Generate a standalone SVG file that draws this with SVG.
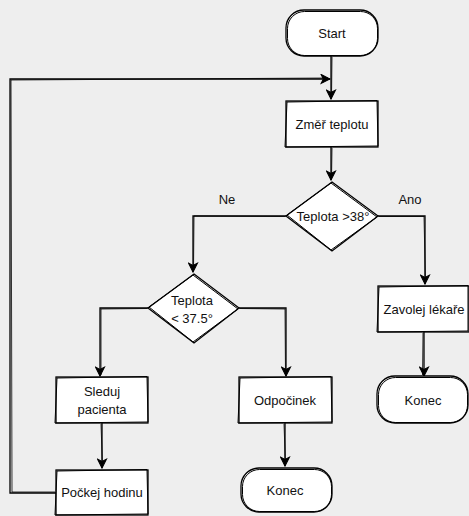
<svg xmlns="http://www.w3.org/2000/svg" width="469" height="516" viewBox="0 0 469 516">
<defs>
<marker id="ah" viewBox="0 0 10 10" refX="9" refY="5" markerWidth="11" markerHeight="11" markerUnits="userSpaceOnUse" orient="auto">
<path d="M1,1 L9,5 L1,9 L3,5 Z" fill="#000" stroke="#000" stroke-width="1"/>
</marker>
<style>
.bg{fill:#eeeeee}
.n{fill:#fff;stroke:#000;stroke-width:1.3}
.s{fill:none;stroke:#000;stroke-width:1}
.c{fill:none;stroke:#000;stroke-width:1.3}
.c2{fill:none;stroke:#000;stroke-width:0.8}
text{font-family:"Liberation Sans",Arial,sans-serif;font-size:13px;fill:#111;text-anchor:middle;dominant-baseline:central}
</style>
</defs>
<rect class="bg" x="0" y="0" width="469" height="516"/>
<g id="connectors">
<path class="c" d="M331,56 L331,99" marker-end="url(#ah)"/>
<path class="c2" d="M332,57 L331.5,98"/>
<path class="c" d="M331,147 L331,180" marker-end="url(#ah)"/>
<path class="c2" d="M332,148 L331.5,179"/>
<path class="c" d="M286,216 L193,216 L193,272" marker-end="url(#ah)"/>
<path class="c2" d="M285,216.5 L194,216 L193.5,271"/>
<path class="c" d="M378,216 L425,216 L425,284" marker-end="url(#ah)"/>
<path class="c2" d="M379,216.5 L424,216.5 L425.5,283"/>
<path class="c" d="M148,308 L100,308 L100,376" marker-end="url(#ah)"/>
<path class="c2" d="M147,308.5 L101,309 L101,375"/>
<path class="c" d="M239,308 L286,308 L286,376" marker-end="url(#ah)"/>
<path class="c2" d="M240,308.5 L285,309 L285.5,375"/>
<path class="c" d="M424,332 L424,376" marker-end="url(#ah)"/>
<path class="c2" d="M423,333 L422.5,375"/>
<path class="c" d="M285,423 L285,466" marker-end="url(#ah)"/>
<path class="c2" d="M284,424 L285.5,465"/>
<path class="c" d="M102,423 L102,468" marker-end="url(#ah)"/>
<path class="c2" d="M101,424 L102.5,467"/>
<path class="c" d="M56,493 L10,493 L10,79 L330,79" marker-end="url(#ah)"/>
<path class="c2" d="M55,492 L12,492 L11,80 L328,78"/>
</g>
<g id="start">
<rect class="n" x="286" y="10" width="92" height="46" rx="18"/>
<rect class="s" x="287.5" y="11.5" width="90" height="44" rx="17"/>
<text x="332" y="33">Start</text>
</g>
<g id="zmer">
<rect class="n" x="286" y="101" width="92" height="46"/>
<path class="s" d="M287,102 L377,100.5 L378,146 L285,147 Z"/>
<text x="332" y="124">Změř teplotu</text>
</g>
<g id="d1">
<path class="n" d="M332,182 L378,216 L332,251 L286,216 Z"/>
<path class="s" d="M331,183 L377,217 L331,250 L287,215 Z"/>
<text x="333" y="216">Teplota &gt;38°</text>
</g>
<text x="227" y="199">Ne</text>
<text x="410" y="199">Ano</text>
<g id="d2">
<path class="n" d="M194,274 L239,308 L194,343 L148,308 Z"/>
<path class="s" d="M193,275 L238,309 L193,342 L149,307 Z"/>
<text x="192" y="300">Teplota</text>
<text x="192" y="318">&lt; 37.5°</text>
</g>
<g id="zavolej">
<rect class="n" x="378" y="286" width="91" height="46"/>
<path class="s" d="M379,287 L468,285.5 L468,331 L377,332 Z"/>
<text x="424" y="309">Zavolej lékaře</text>
</g>
<g id="konec1">
<rect class="n" x="377" y="376" width="91" height="47" rx="18"/>
<rect class="s" x="378.5" y="377.5" width="89" height="45" rx="17"/>
<text x="423" y="400">Konec</text>
</g>
<g id="sleduj">
<rect class="n" x="56" y="377" width="92" height="46"/>
<path class="s" d="M57,378 L147,376.5 L148,422 L55,423 Z"/>
<text x="102" y="391">Sleduj</text>
<text x="102" y="409">pacienta</text>
</g>
<g id="odpocinek">
<rect class="n" x="239" y="377" width="93" height="46"/>
<path class="s" d="M240,378 L331,376.5 L332,422 L238,423 Z"/>
<text x="285" y="400">Odpočinek</text>
</g>
<g id="konec2">
<rect class="n" x="241" y="468" width="91" height="44" rx="18"/>
<rect class="s" x="242.5" y="469.5" width="89" height="42" rx="17"/>
<text x="285" y="490">Konec</text>
</g>
<g id="pockej">
<rect class="n" x="56" y="470" width="92" height="45"/>
<path class="s" d="M57,471 L147,469.5 L148,514 L55,515 Z"/>
<text x="102" y="492">Počkej hodinu</text>
</g>
</svg>
